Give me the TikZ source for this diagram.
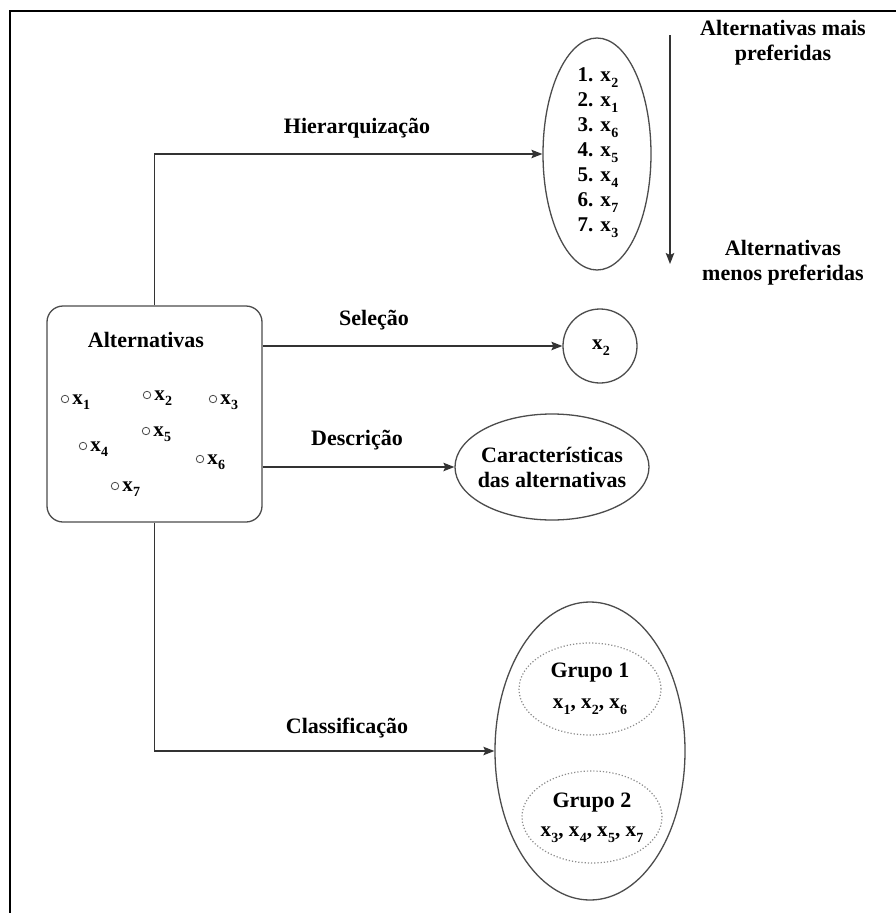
\documentclass[tikz,border=0pt]{standalone}
\usepackage{fontspec}
\setmainfont{Liberation Serif}
\usetikzlibrary{arrows.meta,shapes.geometric}
% bold x with a lowered index
\newcommand\xsub[1]{x\kern0.3pt\raisebox{-0.6ex}{\fontsize{14}{14}\selectfont #1}}

\begin{document}
\begin{tikzpicture}[x=1pt,y=-1pt,
  outline/.style={draw=black!70, line width=1.3pt},
  lbl/.style={font=\fontsize{22}{25}\selectfont\bfseries, inner sep=0pt},
  item/.style={font=\fontsize{21}{25}\selectfont\bfseries, inner sep=0pt},
  arr/.style={draw=black!80, line width=1.2pt, -{Stealth[length=11pt,width=8.5pt,inset=2pt]}},
  dot/.style={circle, draw=black!70, line width=0.8pt, minimum size=7.5pt, inner sep=0pt},
  oval/.style={ellipse, outline, inner sep=0pt},
  group/.style={ellipse, draw=black!45, dotted, line width=1.2pt, inner sep=0pt}
]
\useasboundingbox (0,0) rectangle (896,913);
\fill[white] (0,0) rectangle (896,913);

% outer frame (top and left edges)
\draw[line width=2.6pt] (10,913) -- (10,11) -- (896,11);

% set of alternatives
\node[outline, rounded corners=16pt, minimum width=215pt, minimum height=216pt] (alt) at (154.5,414) {};
\node[lbl] (altT) at (146,340) {Alternativas};

\foreach \i/\px/\py in {1/65/399, 2/147/395, 3/213/399, 4/83/446, 5/146/431, 6/200/459, 7/115/486}{
  \node[dot] (d\i) at (\px,\py) {};
  \node[item, anchor=base west] (x\i) at ([xshift=3pt,yshift=-5pt]d\i.east) {\xsub{\i}};
}

% ranking
\node[oval, minimum width=108pt, minimum height=232pt] (rank) at (597,154) {};
\node[item, align=left] (ranklist) at (598,153) {1. \xsub{2}\\2. \xsub{1}\\3. \xsub{6}\\4. \xsub{5}\\5. \xsub{4}\\6. \xsub{7}\\7. \xsub{3}};

\coordinate (pTop) at (670,35);
\coordinate (pBot) at (670,264);
\draw[arr] (pTop) -- (pBot);
\node[lbl, align=center] (most) at (783,43) {Alternativas mais\\preferidas};
\node[lbl, align=center] (least) at (783,263) {Alternativas\\menos preferidas};

% selection
\node[circle, outline, minimum size=74pt, inner sep=0pt] (sel) at (600,346) {};
\node[item] (selx) at (601,348) {\xsub{2}};

% description
\node[oval, minimum width=194pt, minimum height=106pt] (desc) at (552,467) {};
\node[lbl, align=center] (descT) at (552,467) {Características\\das alternativas};

% classification
\node[oval, minimum width=190pt, minimum height=298pt] (cls) at (590,751) {};
\node[group, minimum width=142pt, minimum height=92pt] (g1) at (590,689) {};
\node[lbl] (g1T) at (590,673) {Grupo 1};
\node[item] (g1x) at (590,707) {\xsub{1}, \xsub{2}, \xsub{6}};
\node[group, minimum width=140pt, minimum height=92pt] (g2) at (592,817) {};
\node[lbl] (g2T) at (592,803) {Grupo 2};
\node[item] (g2x) at (592,835) {\xsub{3}, \xsub{4}, \xsub{5}, \xsub{7}};

% connectors
\draw[arr] (alt.north) |- (rank.west);
\draw[arr] (alt.east |- sel.west) -- (sel.west);
\draw[arr] (alt.east |- desc.west) -- (desc.west);
\draw[arr] (alt.south) |- (cls.west);

\node[lbl] (lh) at (357,128) {Hierarquização};
\node[lbl] (ls) at (374,320) {Seleção};
\node[lbl] (ld) at (357,440) {Descrição};
\node[lbl] (lc) at (347,728) {Classificação};
\end{tikzpicture}
\end{document}
